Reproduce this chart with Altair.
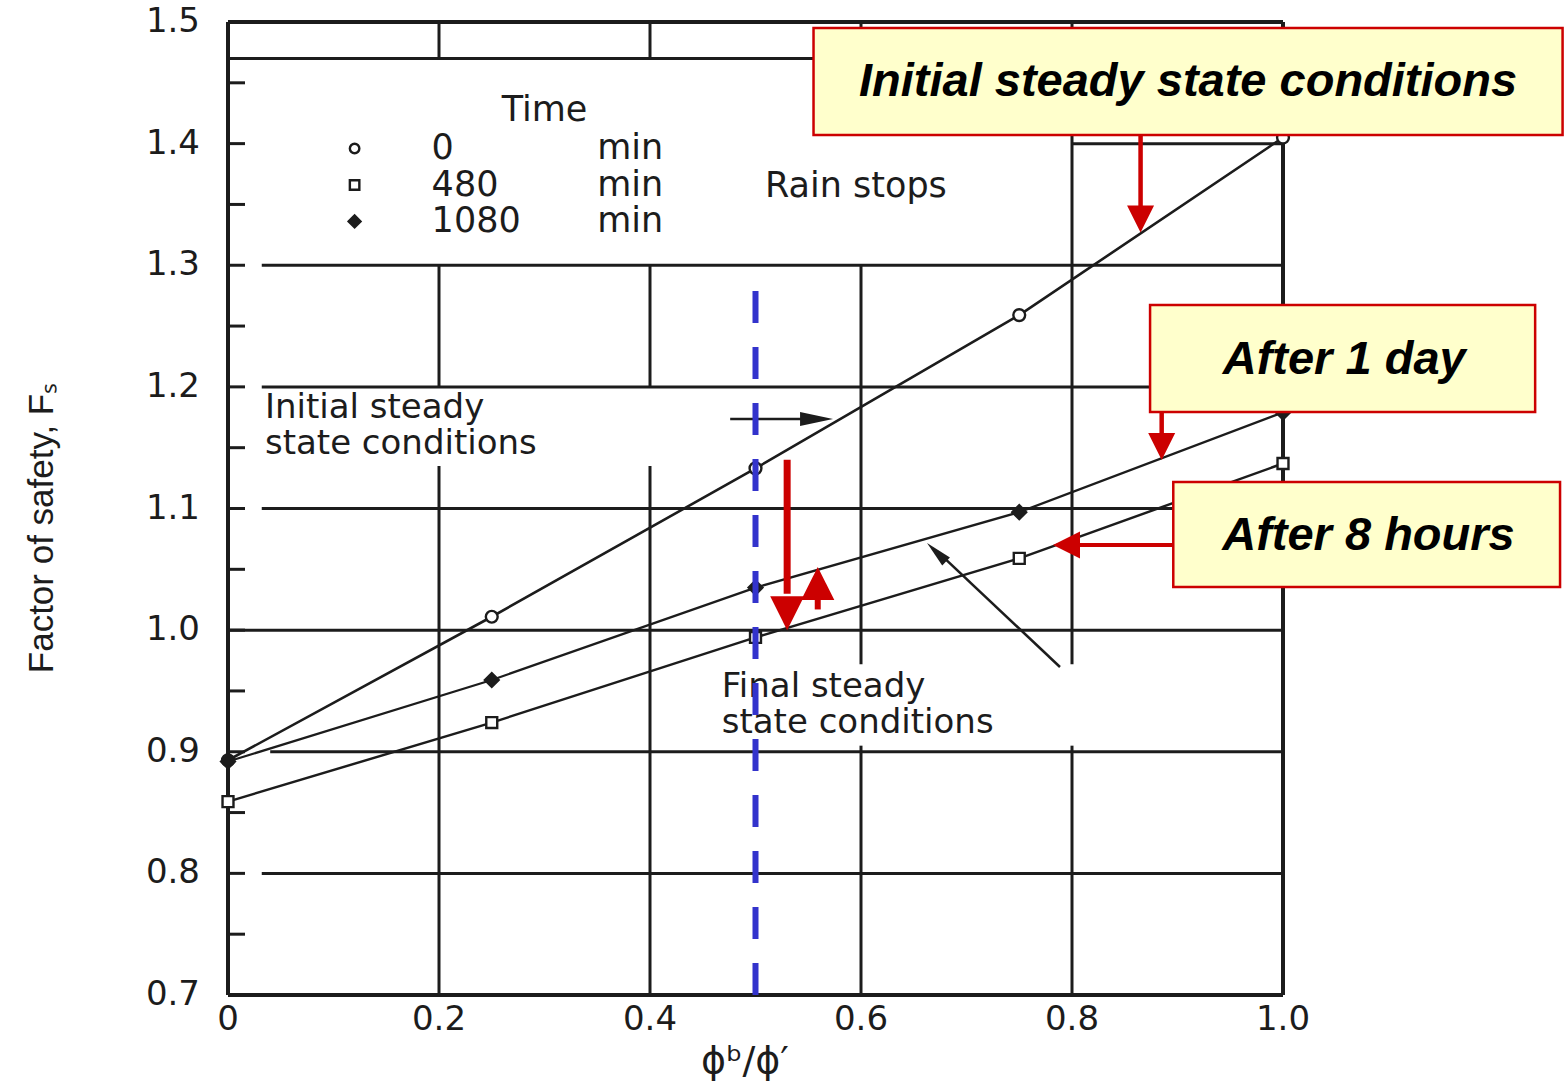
import altair as alt
import pandas as pd

# Factor of safety of the slope against phi_b / phi' at three times
phi_ratio = [0.0, 0.25, 0.5, 0.75, 1.0]
fs_0_min = [0.893, 1.011, 1.133, 1.259, 1.405]
fs_480_min = [0.859, 0.924, 0.994, 1.059, 1.137]
fs_1080_min = [0.892, 0.959, 1.035, 1.097, 1.179]
series_names = ["0 min", "480 min", "1080 min"]

legend_times = ["0", "480", "1080"]
legend_unit = "min"

x_tick_values = [0.0, 0.2, 0.4, 0.6, 0.8, 1.0]
y_tick_values = [0.7, 0.8, 0.9, 1.0, 1.1, 1.2, 1.3, 1.4, 1.5]
y_inner_ticks = [0.75, 0.8, 0.85, 0.9, 0.95, 1.0, 1.05, 1.1, 1.15, 1.2,
                 1.25, 1.3, 1.35, 1.4, 1.45]

x_title = "ϕᵇ/ϕ′"
y_title = "Factor of safety, Fₛ"

# grid segments (the legend block and the printed labels interrupt them)
h_grid_y = [1.47, 1.4, 1.3, 1.2, 1.1, 1.0, 0.9, 0.8]
h_grid_from = [0.0, 0.8, 0.032, 0.032, 0.032, 0.0, 0.04, 0.032]
h_grid_to = [0.8, 1.0, 1.0, 1.0, 1.0, 1.0, 1.0, 1.0]
v_grid_x = [0.2, 0.2, 0.2, 0.4, 0.4, 0.4, 0.6, 0.6, 0.6, 0.8, 0.8]
v_grid_from = [0.7, 1.2, 1.47, 0.7, 1.2, 1.47, 0.7, 0.972, 1.47, 0.7, 0.972]
v_grid_to = [1.135, 1.3, 1.5, 1.135, 1.3, 1.5, 0.905, 1.3, 1.5, 0.905, 1.5]

INK = "#1c1c1c"
RED = "#cc0000"
BLUE = "#3333cc"
YELLOW = "#ffffcc"
SCAN_FONT = "DejaVu Sans"
HEAD = "M0,0L-2,-1L-2,1Z"
SLIM_HEAD = "M0,0L-2,-0.42L-2,0.42Z"
PLOT_W, PLOT_H = 1055, 973

XS = alt.Scale(domain=[0, 1], nice=False, zero=False)
YS = alt.Scale(domain=[0.7, 1.5], nice=False, zero=False)


def xq(field):
    return alt.X(f"{field}:Q", scale=XS, axis=None)


def yq(field):
    return alt.Y(f"{field}:Q", scale=YS, axis=None)


def hseg(rows, width, color=INK, dash=None):
    df = pd.DataFrame(rows, columns=["y", "x0", "x1"])
    kw = {"strokeDash": dash} if dash else {}
    return alt.Chart(df).mark_rule(color=color, strokeWidth=width, **kw).encode(
        x=xq("x0"), x2="x1:Q", y=yq("y"))


def vseg(rows, width, color=INK, dash=None):
    df = pd.DataFrame(rows, columns=["x", "y0", "y1"])
    kw = {"strokeDash": dash} if dash else {}
    return alt.Chart(df).mark_rule(color=color, strokeWidth=width, **kw).encode(
        x=xq("x"), y=yq("y0"), y2="y1:Q")


def dseg(rows, width, color=INK):
    df = pd.DataFrame(rows, columns=["x0", "y0", "x1", "y1"])
    return alt.Chart(df).mark_rule(color=color, strokeWidth=width).encode(
        x=xq("x0"), y=yq("y0"), x2="x1:Q", y2="y1:Q")


def heads(rows, path, color):
    df = pd.DataFrame(rows, columns=["x", "y", "angle", "size"])
    return alt.Chart(df).mark_point(shape=path, filled=True, fill=color, strokeWidth=0,
                                    opacity=1).encode(
        x=xq("x"), y=yq("y"),
        angle=alt.Angle("angle:Q", scale=None),
        size=alt.Size("size:Q", scale=None, legend=None))


def texts(rows, **style):
    df = pd.DataFrame(rows, columns=["x", "y", "label"])
    return alt.Chart(df).mark_text(**style).encode(x=xq("x"), y=yq("y"), text="label:N")


# ---- series data
series_rows = []
for name, values in zip(series_names, [fs_0_min, fs_480_min, fs_1080_min]):
    for xv, yv in zip(phi_ratio, values):
        series_rows.append({"x": xv, "fs": yv, "series": name})
series_df = pd.DataFrame(series_rows)

lines = alt.Chart(series_df).mark_line(color=INK).encode(
    x=xq("x"), y=yq("fs"),
    detail="series:N",
    strokeWidth=alt.StrokeWidth("series:N",
                                scale=alt.Scale(domain=series_names, range=[2.6, 2.3, 5.0]),
                                legend=None),
)


def markers(df, shape, size, fill):
    return alt.Chart(df).mark_point(shape=shape, size=size, filled=True, fill=fill,
                                    stroke=INK, strokeWidth=2.4, opacity=1).encode(
        x=xq("x"), y=yq("fs"))


pts_0 = markers(series_df[series_df.series == "0 min"], "circle", 140, "white")
pts_480 = markers(series_df[series_df.series == "480 min"], "square", 120, "white")
pts_1080 = markers(series_df[series_df.series == "1080 min"], "diamond", 190, INK)

# ---- frame, grid, inward ticks and tick labels
frame = hseg([(1.5, 0, 1), (0.7, 0, 1)], 4) + vseg([(0, 0.7, 1.5), (1.0, 0.7, 1.5)], 4)
grid = (hseg(list(zip(h_grid_y, h_grid_from, h_grid_to)), 3)
        + vseg(list(zip(v_grid_x, v_grid_from, v_grid_to)), 3))
inner_ticks = alt.Chart(pd.DataFrame({"y": y_inner_ticks})).mark_rule(
    color=INK, strokeWidth=3).encode(x=alt.value(0), x2=alt.value(17), y=yq("y"))

tick_font = dict(font=SCAN_FONT, fontSize=34, color=INK)
y_labels = alt.Chart(pd.DataFrame({
    "y": y_tick_values, "label": [f"{v:.1f}" for v in y_tick_values]
})).mark_text(align="right", baseline="middle", **tick_font).encode(
    x=alt.value(-28), y=yq("y"), text="label:N")
x_labels = alt.Chart(pd.DataFrame({
    "x": x_tick_values, "label": ["0" if v == 0 else f"{v:.1f}" for v in x_tick_values]
})).mark_text(align="center", baseline="top", **tick_font).encode(
    x=xq("x"), y=alt.value(PLOT_H + 8), text="label:N")
axis_titles = (
    alt.Chart(pd.DataFrame({"label": [y_title]})).mark_text(
        font="Liberation Sans", fontSize=35, color=INK, angle=270,
        align="center", baseline="middle").encode(
        x=alt.value(-186), y=alt.value(506), text="label:N")
    + alt.Chart(pd.DataFrame({"label": [x_title]})).mark_text(
        font=SCAN_FONT, fontSize=38, color=INK, align="center",
        baseline="middle").encode(
        x=alt.value(517), y=alt.value(PLOT_H + 67), text="label:N")
)

# ---- legend block
scan_text = dict(font=SCAN_FONT, fontSize=35, color=INK, baseline="middle", align="left")
legend_rows_y = [1.396, 1.366, 1.336]
legend_title = texts([(0.300, 1.428, "Time")], **{**scan_text, "align": "center"})
legend_numbers = texts([(0.193, yv, t) for yv, t in zip(legend_rows_y, legend_times)],
                       **scan_text)
legend_units = texts([(0.350, yv, legend_unit) for yv in legend_rows_y], **scan_text)
rain_stops = texts([(0.509, 1.365, "Rain stops")], **scan_text)
legend_markers = (
    markers(pd.DataFrame({"x": [0.120], "fs": [legend_rows_y[0]]}), "circle", 90, "white")
    + markers(pd.DataFrame({"x": [0.120], "fs": [legend_rows_y[1]]}), "square", 90, "white")
    + markers(pd.DataFrame({"x": [0.120], "fs": [legend_rows_y[2]]}), "diamond", 140, INK)
)

# ---- printed curve labels with their arrows
two_line = dict(scan_text, fontSize=34, baseline="top", lineBreak="\n", lineHeight=36)
initial_label = texts([(0.035, 1.197, "Initial steady\nstate conditions")], **two_line)
final_label = texts([(0.468, 0.967, "Final steady\nstate conditions")], **two_line)
black_arrows = (dseg([(0.476, 1.1736, 0.560, 1.1736), (0.7886, 0.9697, 0.672, 1.065)], 2.5)
                + heads([(0.5735, 1.1736, 0, 1089), (0.6626, 1.0716, 224, 700)],
                        SLIM_HEAD, INK))

# ---- highlighted overlay: phi_b/phi' = 0.5
blue_line = vseg([(0.5, 0.7, 1.2797)], 6, color=BLUE, dash=[32, 24])

red_stems = (vseg([(0.865, 1.407, 1.345), (0.885, 1.179, 1.158)], 4.5, color=RED)
             + hseg([(1.070, 0.806, 0.896)], 4, color=RED)
             + vseg([(0.530, 1.140, 1.03)], 7, color=RED)
             + vseg([(0.559, 1.017, 1.026)], 6, color=RED))
red_heads = heads([(0.865, 1.327, 90, 729), (0.885, 1.1399, 90, 729),
                   (0.782, 1.070, 180, 729), (0.530, 1.0, 90, 1150),
                   (0.559, 1.052, 270, 1100)], HEAD, RED)

box_df = pd.DataFrame({
    "x0": [0.555, 0.874, 0.896],
    "x1": [1.265, 1.239, 1.2626],
    "y0": [1.4951, 1.2673, 1.1218],
    "y1": [1.4071, 1.1793, 1.0355],
})
boxes = alt.Chart(box_df).mark_rect(fill=YELLOW, stroke=RED, strokeWidth=2.5).encode(
    x=xq("x0"), x2="x1:Q", y=yq("y0"), y2="y1:Q")
box_text = texts([(0.910, 1.451, "Initial steady state conditions"),
                  (1.058, 1.222, "After 1 day"),
                  (1.081, 1.077, "After 8 hours")],
                 font="Liberation Sans", fontSize=47, fontStyle="italic",
                 fontWeight="bold", color="black", align="center", baseline="middle")

chart = alt.layer(
    grid, frame, inner_ticks, y_labels, x_labels, axis_titles,
    lines, pts_480, pts_0, pts_1080,
    legend_title, legend_numbers, legend_units, rain_stops, legend_markers,
    initial_label, final_label, black_arrows,
    blue_line, red_stems, red_heads, boxes, box_text,
).properties(
    width=PLOT_W, height=PLOT_H,
    padding={"left": 228, "top": 22, "right": 283, "bottom": 87},
    autosize=alt.AutoSizeParams(type="none"),
    background="white",
).configure_view(stroke=None)

chart.save("out.html", embed_options={"renderer": "svg", "actions": False})
